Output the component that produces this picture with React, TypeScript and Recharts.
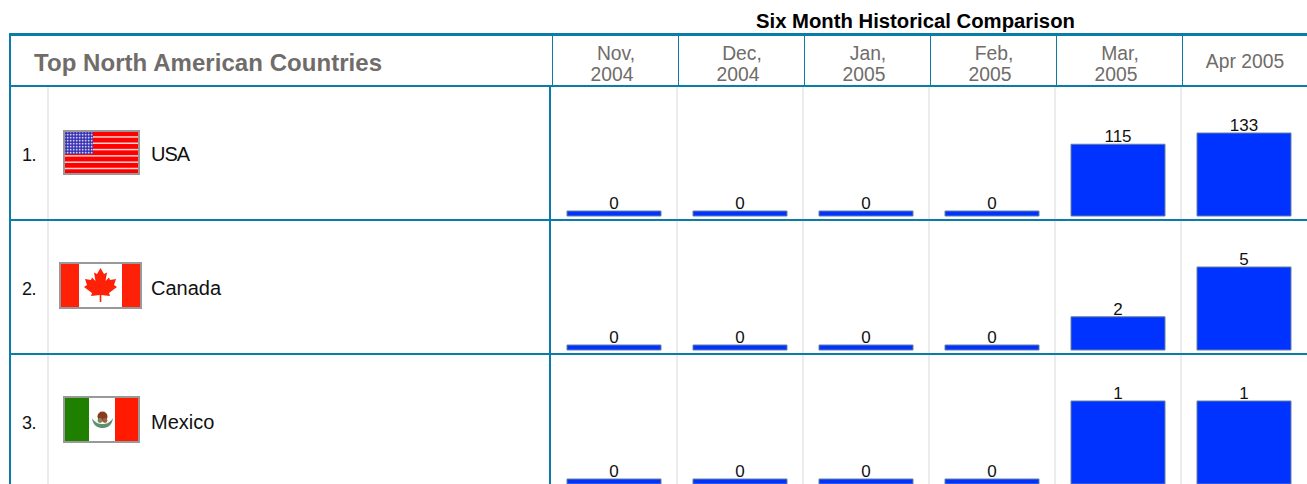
import { Bar, BarChart, LabelList, XAxis, YAxis } from "recharts";

const MONTH_HEADERS = [["Nov,", "2004"], ["Dec,", "2004"], ["Jan,", "2005"], ["Feb,", "2005"], ["Mar,", "2005"], ["Apr 2005"]];
const MONTHS = ["Nov 2004", "Dec 2004", "Jan 2005", "Feb 2005", "Mar 2005", "Apr 2005"];
const USA_VALUES = [0, 0, 0, 0, 115, 133];
const CANADA_VALUES = [0, 0, 0, 0, 2, 5];
const MEXICO_VALUES = [0, 0, 0, 0, 1, 1];

const TEAL = "#0b7ba8";
const GREY_LINE = "#ececec";
const FONT = '"Liberation Sans", Arial, sans-serif';

const ROW_TOPS = [86, 220, 354];
const COL_X = [552, 678, 804, 930, 1056, 1182];

function Rule({ x, y, w, h, color = TEAL }: { x: number; y: number; w: number; h: number; color?: string }) {
  return <div style={{ position: "absolute", left: x, top: y, width: w, height: h, background: color }} />;
}

function Text({ x, y, size, children, bold, color = "#111", spacing = 0 }: any) {
  return (
    <div style={{ position: "absolute", left: x, top: y, fontSize: size, lineHeight: `${size + 3}px`, fontWeight: bold ? 700 : 400, color, whiteSpace: "nowrap", letterSpacing: spacing }}>
      {children}
    </div>
  );
}

function UsaFlag() {
  const whiteStripes = [1, 2, 3, 4, 5, 6];
  return (
    <svg width={77} height={45} style={{ position: "absolute", left: 63, top: 130 }}>
      <defs>
        <pattern id="stars" width={3} height={3} patternUnits="userSpaceOnUse">
          <rect width={3} height={3} fill="#3028b0" />
          <rect x={0.8} y={0.8} width={1.7} height={1.7} fill="#d2d2f0" />
        </pattern>
      </defs>
      <rect width={77} height={45} fill="#999" />
      <rect x={2} y={2} width={73} height={41} fill="#ff0000" />
      {whiteStripes.map((s) => (
        <rect key={s} x={2} y={2 + (s * 82) / 13 - 2.1} width={73} height={1.5} fill="#ffd4d4" />
      ))}
      <rect x={2} y={2} width={28} height={22} fill="url(#stars)" />
    </svg>
  );
}

function CanadaFlag() {
  return (
    <svg width={83} height={47} viewBox="0 0 83 47" style={{ position: "absolute", left: 59, top: 262 }}>
      <rect width={83} height={47} fill="#999" />
      <rect x={2} y={2} width={79} height={43} fill="#fff" />
      <rect x={2} y={2} width={18} height={43} fill="#ff2008" />
      <rect x={63} y={2} width={18} height={43} fill="#ff2008" />
      <path
        d="M41.5 6 L45 12 L48 10.5 L46.5 19 L50 15.5 L51 18 L57 17 L55 23 L58 25 L50 31 L51 34 L42.3 33 L42.3 40 L40.7 40 L40.7 33 L32 34 L33 31 L25 25 L28 23 L26 17 L32 18 L33 15.5 L36.5 19 L35 10.5 L38 12 Z"
        fill="#ff2008"
      />
    </svg>
  );
}

function MexicoFlag() {
  return (
    <svg width={77} height={47} viewBox="0 0 77 47" style={{ position: "absolute", left: 63, top: 396 }}>
      <rect width={77} height={47} fill="#999" />
      <rect x={2} y={2} width={73} height={43} fill="#fff" />
      <rect x={2} y={2} width={24} height={43} fill="#1f8000" />
      <rect x={52} y={2} width={23} height={43} fill="#ff1a00" />
      <path d="M29 22 C30 30 35 32 39.5 32 C44 32 49 30 50 22 C47 27 43 28 39.5 28 C36 28 32 27 29 22 Z" fill="#5f9070" />
      <circle cx={39.5} cy={20.5} r={5} fill="#8a3a20" />
      <circle cx={37} cy={24.5} r={2.4} fill="#7a8a50" />
      <circle cx={42} cy={24.5} r={2.4} fill="#a06040" />
    </svg>
  );
}

function CountryBars({ values, top }: { values: number[]; top: number }) {
  const rows = MONTHS.map((month, i) => ({ month, value: values[i] }));
  return (
    <div style={{ position: "absolute", left: 551, top }}>
      <BarChart width={756} height={131} data={rows} margin={{ top: 47, right: 0, bottom: 1, left: 0 }}>
        <XAxis dataKey="month" hide />
        <YAxis hide domain={[0, Math.max(...values)]} />
        <Bar dataKey="value" barSize={94} minPointSize={5} fill="#0033ff" stroke="#64809f" strokeWidth={1} isAnimationActive={false}>
          <LabelList dataKey="value" position="top" offset={2} fontSize={17} fontFamily={FONT} fill="#111" />
        </Bar>
      </BarChart>
    </div>
  );
}

export default function App() {
  return (
    <div style={{ position: "absolute", left: 0, top: 0, width: 1307, height: 484, overflow: "hidden", background: "#fff", fontFamily: FONT }}>
      <Text x={756} y={10} size={20.3} bold color="#000">Six Month Historical Comparison</Text>

      <Text x={34} y={49} size={24} bold color="#706c69" spacing={0.05}>Top North American Countries</Text>

      {MONTH_HEADERS.map((lines, i) => (
        <div
          key={i}
          style={{ position: "absolute", left: COL_X[i] - 1, top: lines.length > 1 ? 43 : 51, width: 126, textAlign: "center", fontSize: 19.3, lineHeight: "21px", color: "#706c69" }}
        >
          {lines.map((l, j) => (
            <div key={l} style={{ position: "relative", left: lines.length === 1 ? 1 : j === 0 ? 2 : -2 }}>{l}</div>
          ))}
        </div>
      ))}

      {/* light column rules go under the bars and the teal rules */}
      <Rule x={47} y={86} w={2} h={398} color={GREY_LINE} />
      {COL_X.slice(1).map((x) => <Rule key={x} x={x - 2} y={86} w={2} h={398} color={GREY_LINE} />)}

      <CountryBars values={USA_VALUES} top={ROW_TOPS[0]} />
      <CountryBars values={CANADA_VALUES} top={ROW_TOPS[1]} />
      <CountryBars values={MEXICO_VALUES} top={ROW_TOPS[2]} />

      <Rule x={9} y={33} w={1298} h={3} />
      <Rule x={9} y={33} w={2} h={451} />
      <Rule x={11} y={85} w={1296} h={2} />
      <Rule x={11} y={219} w={1296} h={2} />
      <Rule x={11} y={353} w={1296} h={2} />
      <Rule x={549} y={86} w={2} h={398} />
      {COL_X.map((x) => <Rule key={x} x={x} y={36} w={1} h={49} />)}

      <Text x={22} y={145} size={18} spacing={-0.5}>1.</Text>
      <Text x={22} y={279} size={18} spacing={-0.5}>2.</Text>
      <Text x={22} y={413} size={18} spacing={-0.5}>3.</Text>

      <UsaFlag />
      <CanadaFlag />
      <MexicoFlag />

      <Text x={151} y={143} size={20} spacing={-1}>USA</Text>
      <Text x={151} y={277} size={20}>Canada</Text>
      <Text x={151} y={411} size={20}>Mexico</Text>
    </div>
  );
}
